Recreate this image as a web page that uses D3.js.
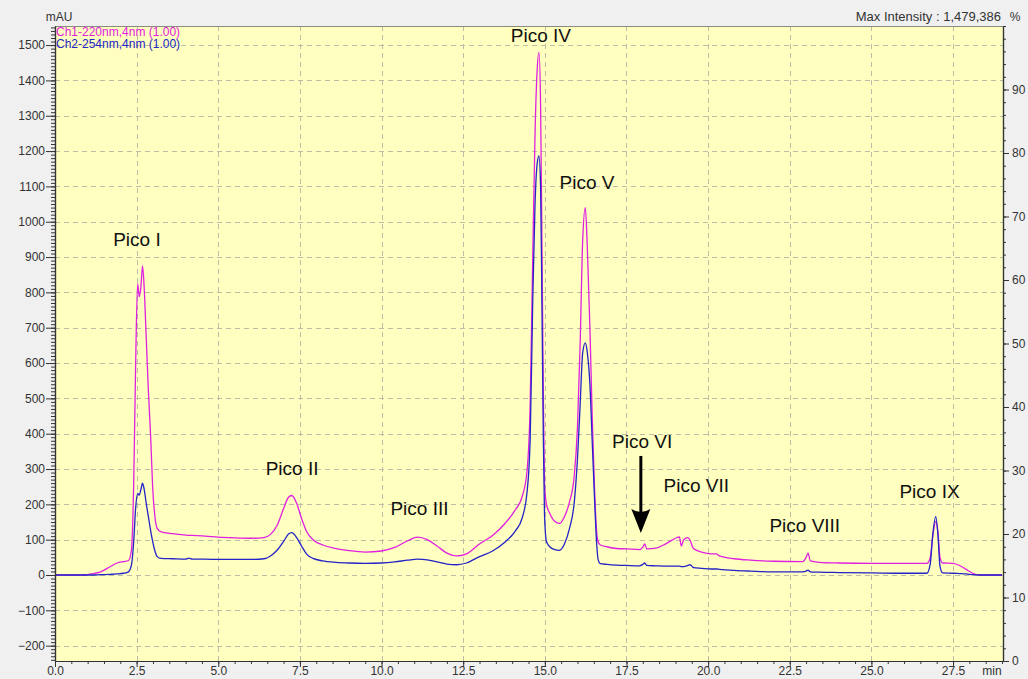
<!DOCTYPE html>
<html>
<head>
<meta charset="utf-8">
<script src="https://cdn.jsdelivr.net/npm/d3@7"></script>
<style>
  html, body { margin: 0; padding: 0; background: #f0f0f0; }
  svg { display: block; font-family: "Liberation Sans", Arial, sans-serif; }
</style>
</head>
<body>
<svg id="chart" width="1028" height="679"></svg>
<script>
// Retention time (min), shared by both detector channels
const retentionTime = [
  0, 0.9, 1.1, 1.4, 1.7, 1.9, 2.1, 2.25, 2.34, 2.41, 2.47, 2.53, 2.58, 2.63, 2.68, 2.73, 2.79, 2.86, 2.93, 2.99,
  3.06, 3.13, 3.25, 3.6, 4.0, 4.1, 4.2, 4.6, 5.0, 5.5, 6.0, 6.4, 6.6, 6.8, 7.0, 7.15, 7.25, 7.4, 7.55, 7.7,
  7.9, 8.2, 8.6, 9.0, 9.5, 10.0, 10.4, 10.8, 11.1, 11.4, 11.7, 12.0, 12.3, 12.6, 13.0, 13.4, 13.8, 14.1, 14.3, 14.45,
  14.55, 14.63, 14.7, 14.76, 14.82, 14.87, 14.91, 14.95, 14.99, 15.05, 15.15, 15.3, 15.45, 15.6, 15.75, 15.9, 16.0, 16.08, 16.16, 16.24,
  16.3, 16.38, 16.45, 16.52, 16.58, 16.63, 16.7, 16.9, 17.2, 17.5, 17.9, 18.0, 18.06, 18.12, 18.4, 18.7, 19.0, 19.12, 19.18, 19.25,
  19.38, 19.45, 19.55, 19.8, 20.1, 20.25, 20.35, 20.8, 21.3, 22.0, 22.9, 23.0, 23.06, 23.13, 23.4, 24.0, 25.0, 26.0, 26.7, 26.8,
  26.88, 26.97, 27.04, 27.1, 27.18, 27.5, 27.7, 27.9, 28.1, 28.3, 29.0
];

// Ch1 — 220 nm absorbance (mAU)
const ch1Absorbance = [
  0, 0, 3, 9, 24, 34, 38, 41, 70, 260, 600, 825, 788, 815, 875, 815, 680, 520, 390, 250,
  165, 132, 122, 117, 113, 112, 112, 110, 107, 105, 104, 106, 115, 140, 188, 220, 225, 203, 160, 124,
  100, 85, 75, 69, 65, 68, 78, 97, 107, 100, 82, 62, 54, 60, 88, 112, 148, 185, 220, 290,
  480, 900, 1250, 1420, 1479.386, 1330, 950, 550, 260, 200, 175, 152, 146, 165, 205, 280, 420, 650, 950, 1040,
  930, 700, 450, 250, 130, 95, 85, 80, 75, 74, 72, 79, 88, 74, 76, 88, 104, 108, 82, 100,
  106, 98, 75, 65, 60, 60, 54, 46, 42, 39, 38, 50, 62, 40, 36, 34, 33, 33, 33, 48,
  110, 152, 120, 50, 34, 33, 27, 16, 5, 0, 0
];

// Ch2 — 254 nm absorbance (mAU)
const ch2Absorbance = [
  0, 0, 0, 1, 2, 3, 5, 9, 28, 95, 190, 231, 226, 242, 260, 243, 205, 165, 125, 95,
  68, 52, 47, 46, 45, 48, 45, 45, 44, 44, 44, 46, 54, 70, 95, 116, 120, 106, 82, 60,
  47, 40, 36, 34, 33, 34, 37, 42, 45, 43, 37, 31, 29, 34, 52, 68, 95, 125, 160, 230,
  380, 780, 1050, 1160, 1186, 1100, 780, 420, 170, 95, 80, 72, 70, 88, 130, 205, 330, 480, 630, 657,
  630, 540, 380, 220, 100, 45, 32, 30, 28, 27, 26, 30, 34, 27, 26, 25, 25, 25, 24, 24,
  27, 29, 21, 19, 17, 17, 16, 13, 11, 9, 9, 11, 14, 9, 8, 7, 6, 5, 5, 30,
  115, 165, 110, 25, 6, 5, 4, 3, 1, 0, 0
];

// Peak annotations: name, retention time (min) and height (mAU) of the label baseline
const peakNames     = ["Pico I", "Pico II", "Pico III", "Pico IV", "Pico V", "Pico VI", "Pico VII", "Pico VIII", "Pico IX"];
const peakLabelTime = [2.51, 7.26, 11.16, 14.88, 16.29, 17.98, 19.64, 22.96, 26.78];
const peakLabelMAU  = [931, 283, 170, 1509, 1093, 359, 234, 122, 218];

// Arrow marking the small Pico VI peak: time (min), start and tip (mAU)
const arrowTime = 17.94;
const arrowFromTo = [337, 119];

// Axis ticks
const timeTicks    = [0, 2.5, 5, 7.5, 10, 12.5, 15, 17.5, 20, 22.5, 25, 27.5];
const mauTicks     = [-200, -100, 0, 100, 200, 300, 400, 500, 600, 700, 800, 900, 1000, 1100, 1200, 1300, 1400, 1500];
const percentTicks = [0, 10, 20, 30, 40, 50, 60, 70, 80, 90];
const channelNames = ["Ch1-220nm,4nm (1.00)", "Ch2-254nm,4nm (1.00)"];
const maxIntensity = 1479386; // µAU

// ---- layout ----
const W = 1028, H = 679;
const plot = { left: 55, right: 1003, top: 26, bottom: 661 };
const colors = { ch1: "#e020e0", ch2: "#2323c8", axis: "#333", grid: "#bdbca6", bg: "#ffffc0", text: "#333" };

const svg = d3.select("#chart");

const x = d3.scaleLinear().domain([0, 29.03]).range([plot.left, plot.right]);
const y = d3.scaleLinear().domain([-243.4, 1554]).range([plot.bottom, plot.top]);
const yPct = d3.scaleLinear().domain([0, 100]).range([plot.bottom, plot.top]);

// background
svg.append("rect").attr("x", 0).attr("y", 0).attr("width", W).attr("height", H).attr("fill", "#f0f0f0");
svg.append("rect")
  .attr("x", plot.left).attr("y", plot.top)
  .attr("width", plot.right - plot.left).attr("height", plot.bottom - plot.top)
  .attr("fill", colors.bg);

// dashed grid
const grid = svg.append("g").attr("stroke", colors.grid).attr("stroke-dasharray", "5,4").attr("stroke-width", 1);
grid.selectAll("line.gx").data(timeTicks.filter(d => d > 0)).join("line")
  .attr("class", "gx")
  .attr("x1", d => Math.round(x(d)) + 0.5).attr("x2", d => Math.round(x(d)) + 0.5)
  .attr("y1", plot.top).attr("y2", plot.bottom);
grid.selectAll("line.gy").data(mauTicks).join("line")
  .attr("class", "gy")
  .attr("x1", plot.left).attr("x2", plot.right)
  .attr("y1", d => Math.round(y(d)) + 0.5).attr("y2", d => Math.round(y(d)) + 0.5);

// traces
const line = vals => d3.line()
  .x((d, i) => x(retentionTime[i]))
  .y(d => y(d))
  .curve(d3.curveMonotoneX)(vals);

svg.append("path").attr("d", line(ch1Absorbance))
  .attr("fill", "none").attr("stroke", colors.ch1).attr("stroke-width", 1.3).attr("stroke-linejoin", "round");
svg.append("path").attr("d", line(ch2Absorbance))
  .attr("fill", "none").attr("stroke", colors.ch2).attr("stroke-width", 1.3).attr("stroke-linejoin", "round");

// frame
svg.append("line").attr("x1", plot.left).attr("x2", plot.right).attr("y1", plot.top + 0.5).attr("y2", plot.top + 0.5)
  .attr("stroke", "#8a8a80").attr("stroke-width", 1);

// axes
function styleAxis(g) {
  g.selectAll(".domain").attr("stroke", colors.axis).attr("stroke-width", 1.2);
  g.selectAll(".tick line").attr("stroke", colors.axis);
  g.selectAll(".tick text").attr("fill", colors.text).attr("font-size", 12)
    .attr("font-family", "'Liberation Sans', Arial, sans-serif");
}

const minorMau = d3.range(-240, 1551, 10);
svg.append("g").attr("transform", `translate(${plot.left},0)`)
  .call(d3.axisLeft(y).tickValues(minorMau).tickSize(4).tickFormat("").tickSizeOuter(0))
  .call(styleAxis);
svg.append("g").attr("transform", `translate(${plot.left},0)`)
  .call(d3.axisLeft(y).tickValues(mauTicks).tickSize(9).tickPadding(1).tickFormat(d3.format("d")).tickSizeOuter(0))
  .call(styleAxis);

const minorPct = d3.range(0, 101, 2);
svg.append("g").attr("transform", `translate(${plot.right},0)`)
  .call(d3.axisRight(yPct).tickValues(minorPct).tickSize(3).tickFormat("").tickSizeOuter(0))
  .call(styleAxis);
svg.append("g").attr("transform", `translate(${plot.right},0)`)
  .call(d3.axisRight(yPct).tickValues(percentTicks).tickSize(6).tickPadding(3).tickFormat(d3.format("d")).tickSizeOuter(0))
  .call(styleAxis);

const minorTime = d3.range(0, 29.01, 0.5);
svg.append("g").attr("transform", `translate(0,${plot.bottom})`)
  .call(d3.axisBottom(x).tickValues(minorTime).tickSize(3).tickFormat("").tickSizeOuter(0))
  .call(styleAxis);
const xAxis = svg.append("g").attr("transform", `translate(0,${plot.bottom})`)
  .call(d3.axisBottom(x).tickValues(timeTicks).tickSize(6).tickPadding(0).tickFormat(d3.format(".1f")).tickSizeOuter(0))
  .call(styleAxis);
xAxis.selectAll(".tick text").attr("dy", null).attr("y", 14);

// axis units and header
const txt = svg.append("g").attr("fill", colors.text).attr("font-size", 12);
txt.append("text").attr("x", 59).attr("y", 21).attr("text-anchor", "middle").text("mAU");
txt.append("text").attr("x", 1015).attr("y", 21).attr("text-anchor", "middle").text("%");
txt.append("text").attr("x", 992).attr("y", 675).attr("text-anchor", "middle").text("min");
txt.append("text").attr("x", 1001).attr("y", 21).attr("text-anchor", "end").attr("font-size", 13)
  .text("Max Intensity : " + d3.format(",")(maxIntensity));

// channel legend
svg.append("g").attr("font-size", 12)
  .selectAll("text").data(channelNames).join("text")
  .attr("x", 56).attr("y", (d, i) => 35.5 + i * 12.5)
  .attr("fill", (d, i) => i === 0 ? colors.ch1 : colors.ch2)
  .text(d => d);

// peak labels
svg.append("g").attr("font-size", 19).attr("fill", "#111").attr("text-anchor", "middle")
  .selectAll("text").data(peakNames).join("text")
  .attr("x", (d, i) => x(peakLabelTime[i]))
  .attr("y", (d, i) => y(peakLabelMAU[i]))
  .text(d => d);

// arrow to Pico VI
const ax = x(arrowTime), ay0 = y(arrowFromTo[0]), ay1 = y(arrowFromTo[1]);
svg.append("line").attr("x1", ax).attr("x2", ax).attr("y1", ay0).attr("y2", ay1 - 18)
  .attr("stroke", "#000").attr("stroke-width", 3);
svg.append("path")
  .attr("d", `M${ax},${ay1} L${ax - 9.5},${ay1 - 24} Q${ax},${ay1 - 18} ${ax + 9.5},${ay1 - 24} Z`)
  .attr("fill", "#000");
</script>
</body>
</html>
